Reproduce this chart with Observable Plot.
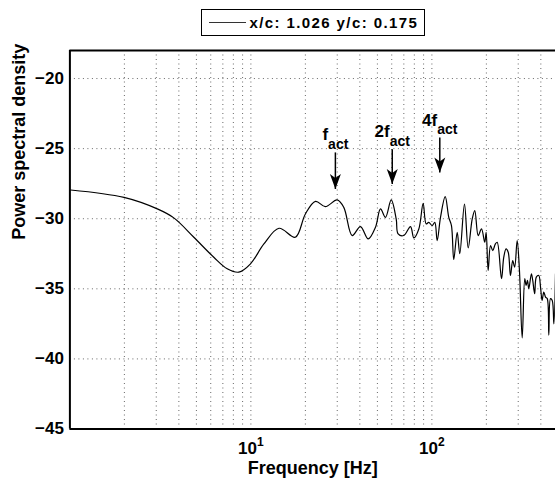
<!DOCTYPE html>
<html>
<head>
<meta charset="utf-8">
<script src="https://cdn.jsdelivr.net/npm/d3@7"></script>
<script src="https://cdn.jsdelivr.net/npm/@observablehq/plot@0.6"></script>
<style>
  body { margin: 0; background: #fff; font-family: "Liberation Sans", Arial, Helvetica, sans-serif; }
  #wrap { position: relative; width: 555px; height: 483px; overflow: hidden; background: #fff; }
  #header { position: relative; width: 555px; height: 40px; }
  #legend { position: absolute; left: 201px; top: 9px; width: 224px; height: 27px; box-sizing: border-box;
            border: 1.5px solid #000; background: #fff; }
  #legend .sample { position: absolute; left: 7px; top: 11.5px; width: 37px; height: 0; border-top: 1px solid #333; }
  #legend .label { position: absolute; left: 47.5px; top: 5px; font: bold 15px "Liberation Sans", Arial, sans-serif;
                   letter-spacing: 1.4px; line-height: 15px; white-space: nowrap; color: #000; }
  #chart svg { display: block; }
</style>
</head>
<body>
<div id="wrap">
  <div id="header"><div id="legend"><div class="sample"></div><div class="label"></div></div></div>
  <div id="chart"></div>
</div>
<script>
// ---- data ----
const legendLabel = "x/c: 1.026 y/c: 0.175";
const xLabel = "Frequency [Hz]";
const yLabel = "Power spectral density";

const freq = [
  1.01, 1.99, 3.04, 3.75, 4.84, 6.24, 7.4, 8.58, 9.95, 11.8,
  14.3, 17.6, 20.0, 22.75, 25.8, 29.97, 32.6, 36.3, 40.3, 44.5,
  48.8, 52.0, 55.4, 59.6, 63.5, 65.1, 69.9, 76.2, 79.5, 84.7,
  89.5, 93.0, 96.1, 100.4, 103.8, 107.0, 111.6, 118.5, 124.0, 128.3,
  132.1, 138.0, 142.6, 151.4, 158.7, 167.1, 172.6, 180.3, 188.0, 196.0,
  199.5, 204.6, 210.9, 217.0, 224.4, 229.6, 242.5, 249.6, 257.0, 264.1,
  271.8, 279.7, 286.8, 295.9, 304.7, 315.5, 326.0, 331.7, 337.4, 343.1,
  354.8, 360.8, 369.8, 377.6, 389.5, 398.4, 406.4, 415.2, 424.6, 434.0,
  442.6, 452.3, 462.4, 472.1, 481.9
];
const psd = [
  -27.95, -28.48, -29.30, -29.94, -31.32, -32.75, -33.57, -33.81, -33.22, -31.80,
  -30.68, -31.32, -29.66, -28.76, -29.14, -28.66, -29.19, -31.20, -30.56, -31.44,
  -30.61, -29.30, -29.90, -28.66, -30.01, -31.08, -31.20, -30.56, -31.37, -30.73,
  -28.90, -30.37, -30.26, -30.49, -30.26, -31.56, -29.90, -28.43, -29.90, -30.49,
  -32.91, -30.97, -32.50, -28.95, -32.08, -30.01, -29.42, -31.20, -30.73, -31.68,
  -30.97, -33.69, -31.91, -32.27, -31.79, -31.68, -34.28, -32.74, -32.15, -32.39,
  -34.05, -32.98, -33.45, -31.56, -33.69, -38.50, -34.28, -34.76, -34.40, -34.99,
  -33.93, -34.40, -35.35, -34.17, -34.05, -34.88, -35.83, -35.23, -35.59, -35.70,
  -38.30, -35.70, -35.83, -37.50, -33.93
];

const xTicks = [10, 100];                       // labelled decades
const yTicks = [-45, -40, -35, -30, -25, -20];
const yGrid = [-40, -35, -30, -25, -20];
const gridMantissa = [2, 3, 4, 5, 6, 7, 8, 9];
const gridDecades = [1, 10, 100];

// annotations (arrows)
const annFreq = [29.3, 60.4, 110.6];
const annTop = [-25.27, -25.04, -24.21];
const annTip = [-27.88, -27.53, -26.70];
const annMain = ["f", "2f", "4f"];
const annSub = "act";

// ---- build ----
const data = freq.map((f, i) => ({f, v: psd[i]}));
const gridX = gridDecades.flatMap(d => [d === 1 ? null : d, ...gridMantissa.map(m => m * d)]).filter(v => v != null && v < 482);
const ann = annFreq.map((f, i) => ({f, top: annTop[i], tip: annTip[i], label: annMain[i] + "_" + annSub}));

const arrowHead = {
  draw(ctx) {
    ctx.moveTo(0, 0);
    ctx.lineTo(-5.5, -15);
    ctx.lineTo(0, -11);
    ctx.lineTo(5.5, -15);
    ctx.closePath();
  }
};

document.querySelector("#legend .label").textContent = legendLabel;

const dots = {stroke: "#000", strokeOpacity: 0.6, strokeWidth: 1, strokeDasharray: "1,3.5"};
const bold = {fontWeight: "bold", fill: "#000"};

const svg = Plot.plot({
  width: 555,
  height: 443,
  marginLeft: 69.4,
  marginRight: 0,
  marginTop: 10,
  marginBottom: 54.5,
  style: "font-family: 'Liberation Sans', Arial, sans-serif; font-size: 17px; background: #fff; color: #000;",
  x: {type: "log", domain: [1, 482], axis: null},
  y: {domain: [-45, -18], axis: null},
  marks: [
    Plot.ruleX(gridX, dots),
    Plot.ruleY(yGrid, dots),
    Plot.line(data, {x: "f", y: "v", stroke: "#000", strokeWidth: 1.2, curve: "catmull-rom"}),
    Plot.link(ann, {x1: "f", y1: "top", x2: "f", y2: "tip", stroke: "#000", strokeWidth: 1.5}),
    Plot.dot(ann, {x: "f", y: "tip", symbol: arrowHead, fill: "#000", stroke: null}),
    Plot.text(ann, {x: "f", y: "top", text: "label", fontSize: 17, textAnchor: "middle", dy: -17.5, ...bold}),
    Plot.ruleX([1], {stroke: "#000", strokeWidth: 2}),
    Plot.ruleY([-45, -18], {stroke: "#000", strokeWidth: 2}),
    // tick labels
    Plot.text(yTicks, {y: d => d, frameAnchor: "left", textAnchor: "end", dx: -6, fontSize: 17,
                       text: d => d3.format("d")(d).replace("-", "\u2212"), ...bold}),
    Plot.text(xTicks, {x: d => d, frameAnchor: "bottom", lineAnchor: "top", dy: 13, fontSize: 17,
                       text: d => `10^${Math.round(Math.log10(d))}`, ...bold}),
    // axis titles
    Plot.text([xLabel], {frameAnchor: "bottom", dy: 44.5, fontSize: 18, ...bold}),
    Plot.text([yLabel], {frameAnchor: "left", rotate: -90, dx: -50.4, fontSize: 18, ...bold})
  ]
});

// superscripts / subscripts
const NS = "http://www.w3.org/2000/svg";
svg.querySelectorAll("text").forEach(t => {
  if (t.querySelector("tspan")) return;
  const s = t.textContent;
  let parts = null, dy = 0, fs = 0;
  if (s.includes("^")) { parts = s.split("^"); dy = -8; fs = 12; }
  else if (s.includes("_")) { parts = s.split("_"); dy = 9; fs = 14; }
  if (!parts) return;
  t.textContent = "";
  const a = document.createElementNS(NS, "tspan");
  a.textContent = parts[0];
  const b = document.createElementNS(NS, "tspan");
  b.textContent = parts[1];
  b.setAttribute("dy", dy);
  b.setAttribute("font-size", fs);
  t.appendChild(a);
  t.appendChild(b);
});

document.getElementById("chart").appendChild(svg);
</script>
</body>
</html>
